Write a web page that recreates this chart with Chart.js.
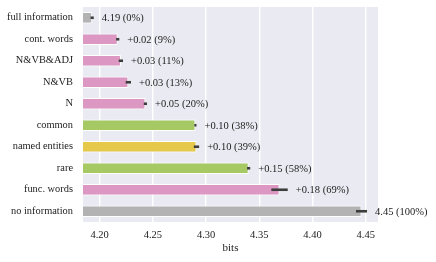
<!DOCTYPE html>
<html lang="en">
  <head>
    <meta charset="UTF-8" />
    <title>Bits chart</title>
    <script src="https://cdn.jsdelivr.net/npm/chart.js"></script>
    <style>
      html, body { margin: 0; padding: 0; background: #fff; }
    </style>
  </head>
  <body>
    <canvas id="myChart" width="436" height="262"></canvas>
    <script>
      // data
      const categories = [
        "full information",
        "cont. words",
        "N&VB&ADJ",
        "N&VB",
        "N",
        "common",
        "named entities",
        "rare",
        "func. words",
        "no information",
      ];
      const bits = [4.193, 4.217, 4.220, 4.227, 4.243, 4.290, 4.291, 4.340, 4.369, 4.446];
      const errs = [0.0015, 0.0015, 0.002, 0.0025, 0.0015, 0.001, 0.0025, 0.0015, 0.0077, 0.0052];
      const valueLabels = [
        "4.19 (0%)",
        "+0.02 (9%)",
        "+0.03 (11%)",
        "+0.03 (13%)",
        "+0.05 (20%)",
        "+0.10 (38%)",
        "+0.10 (39%)",
        "+0.15 (58%)",
        "+0.18 (69%)",
        "4.45 (100%)",
      ];
      const groups = ["gray", "pink", "pink", "pink", "pink", "green", "yellow", "green", "pink", "gray"];

      const palette = {
        gray: "#b3b3b3",
        pink: "#dc97c2",
        green: "#a6c963",
        yellow: "#e6c84b",
      };

      const xMin = 4.1844;
      const xMax = 4.4615;
      const font = "'Liberation Serif', 'DejaVu Serif', serif";

      // seaborn-like grey panel
      const panelBg = {
        id: "panelBg",
        beforeDraw(chart) {
          const { ctx, chartArea: a } = chart;
          ctx.save();
          ctx.fillStyle = "#eaeaf2";
          ctx.fillRect(a.left, a.top, a.right - a.left, a.bottom - a.top);
          ctx.restore();
        },
      };

      // error bars + value text
      const errAndText = {
        id: "errAndText",
        afterDatasetsDraw(chart) {
          const { ctx } = chart;
          const xs = chart.scales.x;
          const ys = chart.scales.y;
          ctx.save();
          for (let i = 0; i < bits.length; i++) {
            const y = ys.getPixelForValue(i);
            const x0 = xs.getPixelForValue(bits[i] - errs[i]);
            const x1 = xs.getPixelForValue(bits[i] + errs[i]);
            ctx.strokeStyle = "#3d3d3d";
            ctx.lineWidth = 2.6;
            ctx.lineCap = "butt";
            ctx.beginPath();
            ctx.moveTo(Math.min(x0, x1 - 2), y);
            ctx.lineTo(Math.max(x1, x0 + 2), y);
            ctx.stroke();

            ctx.fillStyle = "#222";
            ctx.font = "10.5px " + font;
            ctx.textBaseline = "middle";
            ctx.textAlign = "left";
            ctx.fillText(valueLabels[i], x1 + 8, y + 0.5);
          }
          ctx.restore();
        },
      };

      const ctx = document.getElementById("myChart").getContext("2d");
      const myChart = new Chart(ctx, {
        type: "bar",
        data: {
          labels: categories,
          datasets: [
            {
              data: bits,
              base: xMin,
              backgroundColor: groups.map((g) => palette[g]),
              borderColor: "#ffffff",
              borderWidth: 1,
              barPercentage: 0.54,
              categoryPercentage: 1,
            },
          ],
        },
        options: {
          indexAxis: "y",
          responsive: false,
          animation: false,
          layout: { padding: { top: 7, right: 58, left: 0, bottom: 7 } },
          plugins: {
            legend: { display: false },
            tooltip: { enabled: false },
          },
          scales: {
            x: {
              min: xMin,
              max: xMax,
              border: { display: false },
              grid: { color: "#ffffff", lineWidth: 1.4, drawTicks: false },
              ticks: {
                stepSize: 0.05,
                includeBounds: false,
                padding: 7,
                color: "#222",
                font: { family: font, size: 10.5 },
                callback: (v) => Number(v).toFixed(2),
              },
              title: {
                display: true,
                text: "bits",
                color: "#222",
                padding: { top: 0, bottom: 0 },
                font: { family: font, size: 11 },
              },
              afterFit(scale) {
                scale.height = 33;
                scale.paddingLeft = 0;
                scale.paddingRight = 0;
              },
            },
            y: {
              border: { display: false },
              grid: { display: false, drawTicks: false },
              ticks: {
                padding: 10,
                color: "#222",
                font: { family: font, size: 10.4 },
              },
              afterFit(scale) {
                scale.width = 83;
                scale.paddingTop = 0;
                scale.paddingBottom = 0;
              },
            },
          },
        },
        plugins: [panelBg, errAndText],
      });
    </script>
  </body>
</html>
